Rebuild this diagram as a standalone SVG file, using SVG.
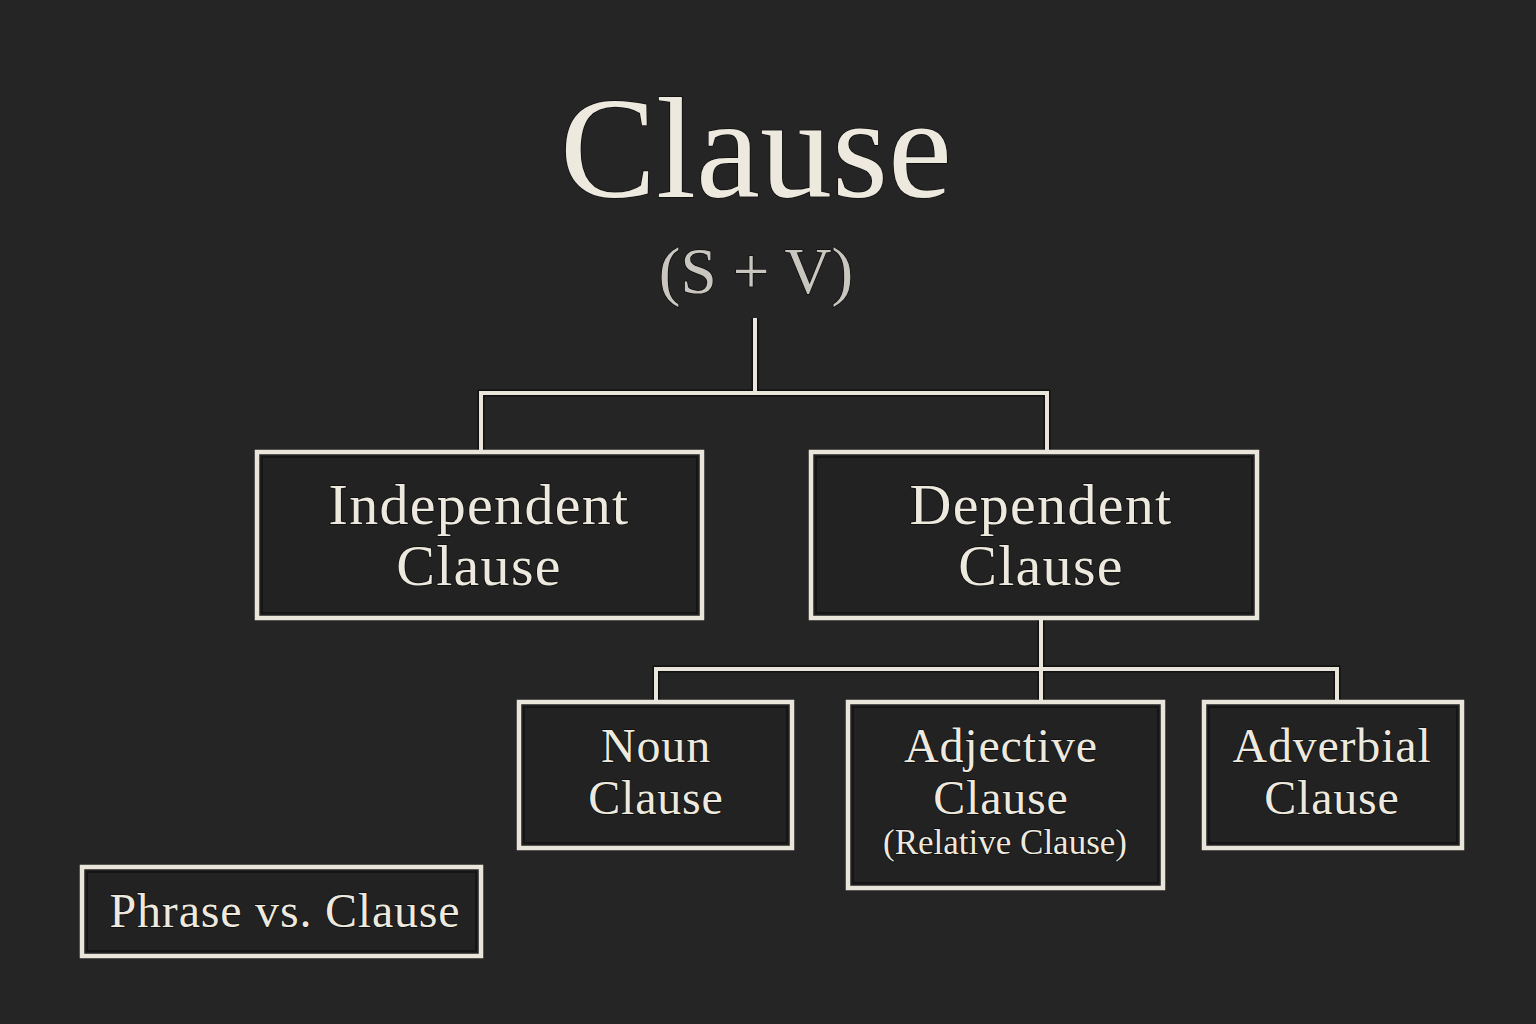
<svg xmlns="http://www.w3.org/2000/svg" width="1536" height="1024" viewBox="0 0 1536 1024">
<style>
.bg{fill:#262525}
.box{fill:#232222;stroke:#e9e5da;stroke-width:4.5}
.inner{fill:none;stroke:#121212;stroke-width:1.5}
.con{fill:none;stroke:#e9e5da;stroke-width:4}
.conS{fill:none;stroke:#111;stroke-width:7}
text{font-family:"Liberation Serif","Times New Roman",serif;fill:#ede9de;text-anchor:middle;paint-order:stroke;stroke:#0e0e0e;stroke-width:1.5}
.t1{font-size:144px}
.t2{font-size:65px;fill:#c9c6bf}
.lg{font-size:58px;letter-spacing:1.3px}
.md{font-size:48px;letter-spacing:0.8px}
.sm{font-size:35px}
</style>
<rect class="bg" x="0" y="0" width="1536" height="1024"/>
<g id="title">
<text class="t1" x="756" y="197">Clause</text>
<text class="t2" x="756" y="293">(S + V)</text>
</g>
<g id="connectors">
<path class="conS" d="M755 318V393M481 452V393H1047V452M1041 618V669M656 702V669H1337V702M1041 669V702"/>
<path class="con" d="M755 318V393M481 452V393H1047V452M1041 618V669M656 702V669H1337V702M1041 669V702"/>
</g>
<g id="independent">
<rect class="box" x="257" y="452" width="445" height="166"/>
<rect class="inner" x="262" y="457" width="435" height="156"/>
<text class="lg" x="479" y="524">Independent</text>
<text class="lg" x="479" y="585">Clause</text>
</g>
<g id="dependent">
<rect class="box" x="811" y="452" width="446" height="166"/>
<rect class="inner" x="816" y="457" width="436" height="156"/>
<text class="lg" x="1041" y="524">Dependent</text>
<text class="lg" x="1041" y="585">Clause</text>
</g>
<g id="noun">
<rect class="box" x="519" y="702" width="273" height="146"/>
<rect class="inner" x="524" y="707" width="263" height="136"/>
<text class="md" x="656" y="762">Noun</text>
<text class="md" x="656" y="814">Clause</text>
</g>
<g id="adjective">
<rect class="box" x="848" y="702" width="315" height="186"/>
<rect class="inner" x="853" y="707" width="305" height="176"/>
<text class="md" x="1001" y="762">Adjective</text>
<text class="md" x="1001" y="814">Clause</text>
<text class="sm" x="1005" y="854">(Relative Clause)</text>
</g>
<g id="adverbial">
<rect class="box" x="1204" y="702" width="258" height="146"/>
<rect class="inner" x="1209" y="707" width="248" height="136"/>
<text class="md" x="1332" y="762">Adverbial</text>
<text class="md" x="1332" y="814">Clause</text>
</g>
<g id="phrase">
<rect class="box" x="82" y="867" width="399" height="89"/>
<rect class="inner" x="87" y="872" width="389" height="79"/>
<text class="md" x="285" y="927">Phrase vs. Clause</text>
</g>
</svg>
